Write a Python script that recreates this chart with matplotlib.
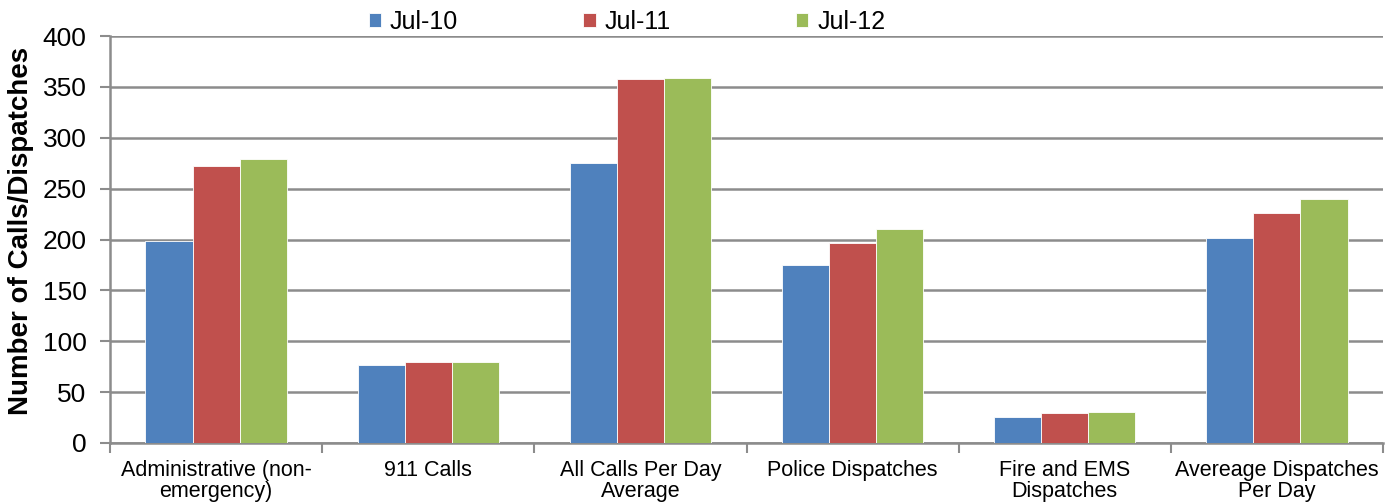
import matplotlib
matplotlib.use("Agg")
import matplotlib.pyplot as plt
import numpy as np

plt.rcParams['font.family'] = ['Liberation Sans', 'DejaVu Sans']

categories = ["Administrative (non-\nemergency)", "911 Calls", "All Calls Per Day\nAverage",
              "Police Dispatches", "Fire and EMS\nDispatches", "Avereage Dispatches\nPer Day"]
series_names = ["Jul-10", "Jul-11", "Jul-12"]
jul10 = [199, 77, 275, 175, 26, 201]
jul11 = [272, 80, 358, 197, 29, 226]
jul12 = [279, 80, 359, 210, 30, 240]
yticks = [0, 50, 100, 150, 200, 250, 300, 350, 400]

colors = ["#4F81BD", "#C0504D", "#9BBB59"]
grid_color = "#8C8C8C"

fig = plt.figure(figsize=(13.92, 5.04), dpi=100)
ax = fig.add_axes([110 / 1392, 1 - 443 / 504, (1383 - 110) / 1392, (443 - 36) / 504])

x = np.arange(len(categories))
width = 1 / 4.5
for i, (vals, name) in enumerate(zip([jul10, jul11, jul12], series_names)):
    ax.bar(x + (i - 1) * width, vals, width, color=colors[i], label=name,
           edgecolor="white", linewidth=0.6, zorder=3)

ax.set_xlim(-0.5, len(categories) - 0.5)
ax.set_ylim(0, 400)
ax.set_yticks(yticks)
ax.yaxis.grid(True, color=grid_color, linewidth=1.8, zorder=0)
ax.set_axisbelow(True)

for s in ["top", "right"]:
    ax.spines[s].set_visible(False)
for s in ["left", "bottom"]:
    ax.spines[s].set_color(grid_color)
    ax.spines[s].set_linewidth(1.8)

ax.tick_params(axis="y", direction="out", length=7, width=1.5, color=grid_color,
               labelsize=19, pad=10)
ax.set_xticks(x)
ax.set_xticklabels(categories, fontsize=15.5, linespacing=1.05)
ax.tick_params(axis="x", length=0, pad=12)
ax.set_xticks(np.arange(-0.5, len(categories)), minor=True)
ax.tick_params(axis="x", which="minor", direction="out", length=7, width=1.5, color=grid_color)

ax.set_ylabel("Number of Calls/Dispatches", fontsize=20, fontweight="bold")
ax.yaxis.set_label_coords(-(110 - 34) / 1273, 0.52)

leg = fig.legend(loc="upper center", bbox_to_anchor=(627 / 1392, 1.005), ncol=3,
                 frameon=False, fontsize=18, handlelength=0.5, handleheight=0.5,
                 handletextpad=0.35, columnspacing=5.0, borderaxespad=0.1)

fig.savefig("out.png", dpi=100)
